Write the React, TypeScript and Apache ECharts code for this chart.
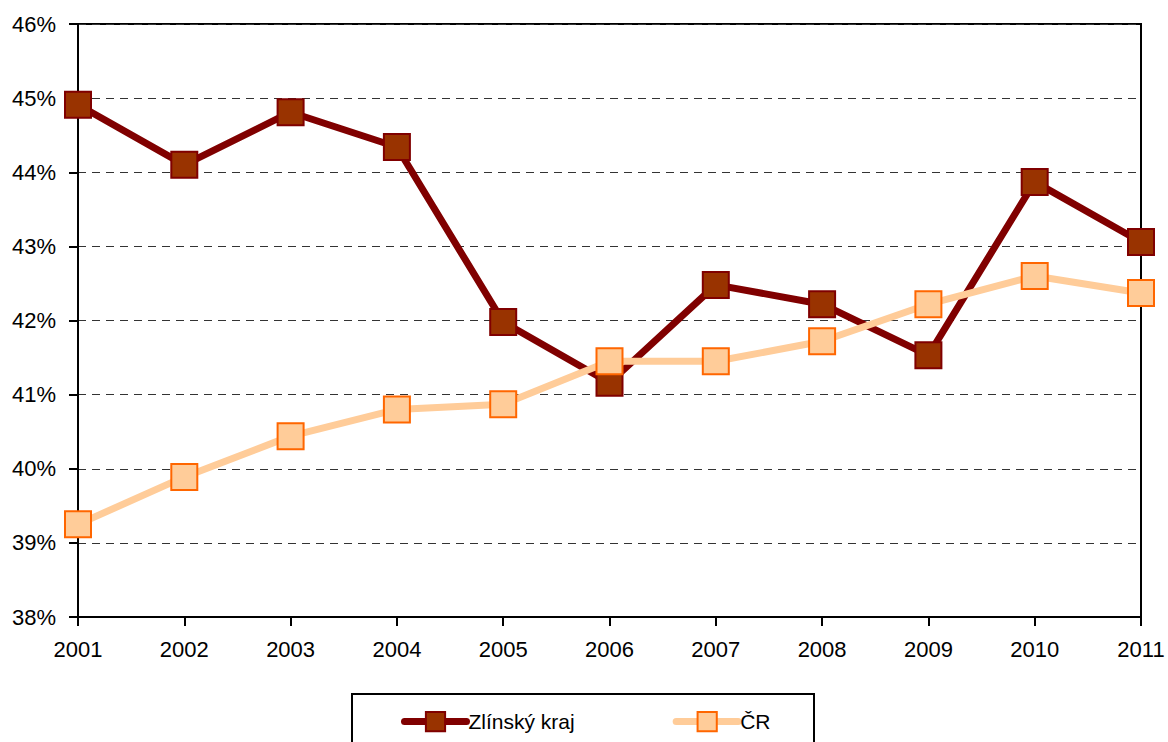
import React, { useEffect, useRef } from "react";
import * as echarts from "echarts";

const years = ["2001", "2002", "2003", "2004", "2005", "2006", "2007", "2008", "2009", "2010", "2011"];
const zlinsky = [44.91, 44.1, 44.81, 44.34, 41.98, 41.16, 42.48, 42.22, 41.53, 43.87, 43.06];
const cr = [39.25, 39.89, 40.44, 40.8, 40.87, 41.45, 41.45, 41.72, 42.22, 42.6, 42.37];

const FONT = "'Liberation Sans', Arial, sans-serif";

export default function App() {
  const ref = useRef<HTMLDivElement>(null);
  useEffect(() => {
    document.body.style.margin = "0";
    const chart = echarts.init(ref.current!, null, { renderer: "svg" });
    chart.setOption({
      animation: false,
      backgroundColor: "#ffffff",
      grid: {
        left: 78,
        right: 27,
        top: 24,
        bottom: 125,
        show: true,
        borderColor: "#000",
        borderWidth: 2,
      },
      xAxis: {
        type: "category",
        data: years,
        boundaryGap: false,
        axisLine: { lineStyle: { color: "#000", width: 2 } },
        axisTick: { show: true, length: 9, inside: false, lineStyle: { color: "#000", width: 2 } },
        axisLabel: { color: "#000", fontFamily: FONT, fontSize: 22, margin: 21 },
      },
      yAxis: {
        type: "value",
        min: 38,
        max: 46,
        interval: 1,
        axisLine: { show: true, lineStyle: { color: "#000", width: 2 } },
        axisTick: { show: true, length: 9, lineStyle: { color: "#000", width: 2 } },
        axisLabel: {
          color: "#000",
          fontFamily: FONT,
          fontSize: 22,
          margin: 22,
          formatter: (v: number) => v + "%",
        },
        splitLine: { show: true, lineStyle: { color: "#333", type: [8, 6], width: 1 } },
      },
      legend: {
        top: 706,
        left: 396,
        itemGap: 98,
        itemWidth: 62,
        itemHeight: 24,
        lineStyle: { width: 7, cap: "round" },
        textStyle: { color: "#000", fontFamily: FONT, fontSize: 21, padding: [0, 0, 0, -3] },
        data: ["Zlínský kraj", "ČR"],
      },
      graphic: [
        {
          type: "rect",
          shape: { x: 352, y: 694, width: 462, height: 60 },
          style: { fill: "none", stroke: "#000", lineWidth: 2 },
          z: 0,
        },
      ],
      series: [
        {
          name: "Zlínský kraj",
          type: "line",
          data: zlinsky,
          symbol: "rect",
          symbolSize: 26,
          lineStyle: { color: "#800000", width: 7 },
          itemStyle: { color: "#993300", borderColor: "#800000", borderWidth: 2 },
          z: 3,
        },
        {
          name: "ČR",
          type: "line",
          data: cr,
          symbol: "rect",
          symbolSize: 26,
          lineStyle: { color: "#FFCC99", width: 7 },
          itemStyle: { color: "#FFCC99", borderColor: "#FF6600", borderWidth: 2 },
          z: 4,
        },
      ],
    });
    return () => chart.dispose();
  }, []);
  return <div ref={ref} style={{ width: 1168, height: 742 }} />;
}
